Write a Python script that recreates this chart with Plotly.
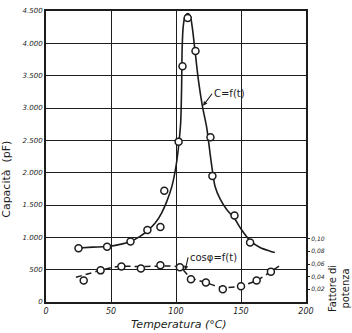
import plotly.graph_objects as go

# ---- data ----
# measured capacitance points (temperature °C, pF)
cap_t = [25, 47, 65, 78, 88, 91, 102, 105, 109, 115, 126.5, 128, 145, 157]
cap_v = [830, 855, 935, 1115, 1160, 1720, 2480, 3645, 4390, 3880, 2547, 1950, 1337, 920]

# drawn curve C = f(t)
capc_t = [25, 36, 47, 58, 65, 72, 78, 84, 89, 93, 97, 100.5, 102.3, 103.6, 104.3, 104.7,
          105.5, 107, 109, 111, 112.5, 114.6, 117.2, 120.3, 123.6, 126.9, 130, 134, 139,
          145, 150, 157, 165, 172, 176]
capc_v = [835, 848, 858, 895, 935, 1010, 1100, 1220, 1380, 1560, 1800, 2165, 2470, 2775,
          3300, 3900, 4250, 4420, 4460, 4420, 4250, 3890, 3436, 3030, 2700, 2190, 1790,
          1590, 1430, 1290, 1130, 950, 840, 790, 765]

# measured power-factor points
pf_t = [29, 42, 58, 73, 88, 103, 111.5, 123, 136, 150, 162, 173]
pf_v = [0.034, 0.050, 0.056, 0.053, 0.058, 0.055, 0.036, 0.031, 0.020, 0.025, 0.034, 0.048]

# drawn dashed curve cos(phi) = f(t)
pfc_t = [23, 42, 55, 75, 90, 103, 111, 124, 135, 149, 162, 173, 181]
pfc_v = [0.039, 0.050, 0.056, 0.056, 0.057, 0.055, 0.039, 0.030, 0.023, 0.025, 0.034, 0.048, 0.059]

x_ticks = [0, 50, 100, 150, 200]
y_ticks = [0, 500, 1000, 1500, 2000, 2500, 3000, 3500, 4000, 4500]
y_labels = ["0", "500", "1.000", "1.500", "2.000", "2.500", "3.000", "3.500", "4.000", "4.500"]
y2_ticks = [0.02, 0.04, 0.06, 0.08, 0.10]
y2_labels = ["0,02", "0,04", "0,06", "0,08", "0,10"]

INK = "#1c1c1c"
FONT = "DejaVu Sans"

fig = go.Figure()
fig.add_trace(go.Scatter(x=capc_t, y=capc_v, mode="lines",
                         line=dict(color=INK, width=1.6, shape="spline", smoothing=0.7),
                         hoverinfo="skip", showlegend=False))
fig.add_trace(go.Scatter(x=cap_t, y=cap_v, mode="markers",
                         marker=dict(size=7, color="white", line=dict(color=INK, width=1.5)),
                         showlegend=False))
fig.add_trace(go.Scatter(x=pfc_t, y=pfc_v, mode="lines", yaxis="y2",
                         line=dict(color=INK, width=1.5, shape="spline", smoothing=0.8,
                                   dash="6px,4px"),
                         hoverinfo="skip", showlegend=False))
fig.add_trace(go.Scatter(x=pf_t, y=pf_v, mode="markers", yaxis="y2",
                         marker=dict(size=7, color="white", line=dict(color=INK, width=1.5)),
                         showlegend=False))

fig.update_layout(
    width=352, height=333,
    margin=dict(l=46, r=46, t=7, b=31),
    paper_bgcolor="white", plot_bgcolor="white",
    font=dict(family=FONT, color=INK, size=8),
    xaxis=dict(range=[0, 200], tickvals=x_ticks, ticks="",
               showgrid=True, gridcolor=INK, gridwidth=1.2,
               showline=True, linecolor=INK, linewidth=2, mirror=True,
               zeroline=False, tickfont=dict(size=8, style="italic")),
    yaxis=dict(range=[0, 4500], tickvals=y_ticks, ticktext=y_labels, ticks="",
               showgrid=True, gridcolor=INK, gridwidth=1.2,
               showline=True, linecolor=INK, linewidth=2, mirror=True,
               zeroline=False, tickfont=dict(size=7, style="italic")),
    yaxis2=dict(range=[0, 0.46], overlaying="y", side="right",
                tickvals=y2_ticks, ticktext=y2_labels, ticks="outside", ticklen=3,
                tickcolor=INK, showgrid=False, zeroline=False, showline=False,
                tickfont=dict(size=6, style="italic")),
    annotations=[
        dict(text="Capacità  (pF)", xref="paper", yref="paper", x=-0.15, y=0.42,
             xanchor="center", yanchor="middle",
             textangle=-90, showarrow=False, font=dict(size=11)),
        dict(text="Temperatura (°C)", xref="paper", yref="paper", x=0.51, y=-0.078,
             xanchor="center", yanchor="middle", showarrow=False,
             font=dict(size=11, style="italic")),
        dict(text="Fattore di<br>potenza", xref="paper", yref="paper", x=1.13, y=0.047,
             xanchor="center", yanchor="middle",
             textangle=-90, showarrow=False, font=dict(size=10)),
        dict(text="C=f(t)", x=120.8, y=3035, xref="x", yref="y",
             showarrow=True, arrowhead=2, arrowsize=0.8, arrowwidth=1.1, arrowcolor=INK,
             ax=9, ay=-12, xanchor="left", yanchor="middle", font=dict(size=10)),
        dict(text="cosφ=f(t)", x=107, y=0.05, xref="x", yref="y2",
             showarrow=True, arrowhead=2, arrowsize=0.8, arrowwidth=1.1, arrowcolor=INK,
             ax=3, ay=-13, xanchor="left", yanchor="middle", font=dict(size=10)),
    ],
)

fig.write_html("out.html")
